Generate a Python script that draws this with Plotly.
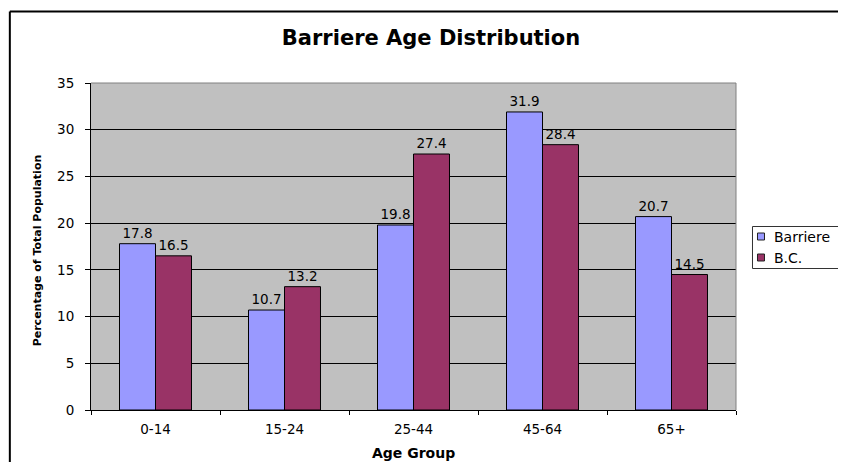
import plotly.graph_objects as go

categories = ["0-14", "15-24", "25-44", "45-64", "65+"]
barriere = [17.8, 10.7, 19.8, 31.9, 20.7]
bc = [16.5, 13.2, 27.4, 28.4, 14.5]
series_names = ["Barriere", "B.C."]
series_colors = ["#9999FF", "#993366"]

# page body has an 8px margin: figure covers screen 8..838 x 8..462
OFF = 8
W, H = 830, 454
L, R, T, B = 90.7, 736.0, 83.0, 410.0   # plot area in screen pixels
pw, ph = R - L, B - T

def px_x(x):
    return (x - L) / pw

def px_y(y):
    return (B - y) / ph

FONT = "DejaVu Sans, Verdana, sans-serif"

fig = go.Figure()
for name, vals, col in zip(series_names, [barriere, bc], series_colors):
    fig.add_trace(go.Bar(
        name=name, x=categories, y=vals,
        marker=dict(color=col, line=dict(color="black", width=1)),
        text=[f"{v:.1f}" for v in vals], textposition="outside",
        textfont=dict(size=13.5, color="black", family=FONT), cliponaxis=False,
        constraintext="none",
    ))

fig.update_layout(
    width=W, height=H, autosize=False,
    margin=dict(l=L - OFF, r=(OFF + W) - R, t=T - OFF, b=(OFF + H) - B, pad=0),
    paper_bgcolor="white", plot_bgcolor="#C0C0C0",
    font=dict(family=FONT, size=13.5, color="black"),
    barmode="group", bargap=0.442, bargroupgap=0,
    title=dict(text="<b>Barriere Age Distribution</b>", font=dict(size=21, family=FONT, color="black"),
               x=(431 - OFF) / W, xref="container", xanchor="center",
               y=1 - (38 - OFF) / H, yref="container", yanchor="middle"),
    showlegend=False,
)
fig.update_xaxes(
    type="category", showgrid=False, showline=True, linecolor="black", linewidth=1,
    ticks="outside", tickson="boundaries", ticklen=4, tickcolor="black",
    tickfont=dict(size=13.5, family=FONT), ticklabelstandoff=7,
)
fig.update_yaxes(
    range=[0, 35], dtick=5, showgrid=True, gridcolor="black", gridwidth=1,
    showline=True, linecolor="black", linewidth=1, zeroline=False,
    ticks="outside", ticklen=5, tickcolor="black",
    tickfont=dict(size=13.5, family=FONT), ticklabelstandoff=8,
)

# gray plot area border (top/right)
fig.add_shape(type="line", xref="paper", yref="paper", x0=0, x1=1, y0=1, y1=1,
              line=dict(color="#808080", width=1), layer="above")
fig.add_shape(type="line", xref="paper", yref="paper", x0=1, x1=1, y0=0, y1=1,
              line=dict(color="#808080", width=1), layer="above")
# outer chart frame: only top and left edges are inside the view
fig.add_shape(type="line", xref="paper", yref="paper",
              x0=px_x(9.5), x1=px_x(846), y0=px_y(11.5), y1=px_y(11.5),
              line=dict(color="black", width=2), layer="above")
fig.add_shape(type="line", xref="paper", yref="paper",
              x0=px_x(9.5), x1=px_x(9.5), y0=px_y(11.5), y1=px_y(470),
              line=dict(color="black", width=2), layer="above")

# axis titles
fig.add_annotation(text="<b>Age Group</b>", xref="paper", yref="paper",
                   x=px_x(413), y=px_y(453), showarrow=False,
                   xanchor="center", yanchor="middle", font=dict(size=14, family=FONT))
fig.add_annotation(text="<b>Percentage of Total Population</b>", xref="paper", yref="paper",
                   x=px_x(37), y=px_y(250), showarrow=False, textangle=-90,
                   xanchor="center", yanchor="middle", font=dict(size=11, family=FONT))

# legend box (right edge lies outside the view)
fig.add_shape(type="path", xref="paper", yref="paper",
              path=(f"M {px_x(846)},{px_y(226.5)} L {px_x(752.5)},{px_y(226.5)} "
                    f"L {px_x(752.5)},{px_y(268.5)} L {px_x(846)},{px_y(268.5)}"),
              line=dict(color="#333333", width=1), layer="above")
for i, (name, col) in enumerate(zip(series_names, series_colors)):
    cy = 236.5 + 21 * i
    fig.add_shape(type="rect", xref="paper", yref="paper",
                  x0=px_x(757.5), x1=px_x(764.5), y0=px_y(cy - 3.5), y1=px_y(cy + 3.5),
                  line=dict(color="#222222", width=1), fillcolor=col, layer="above")
    fig.add_annotation(text=name, xref="paper", yref="paper",
                       x=px_x(772), y=px_y(cy), showarrow=False,
                       xanchor="left", yanchor="middle", font=dict(size=14, family=FONT))

fig.write_html("out.html")
